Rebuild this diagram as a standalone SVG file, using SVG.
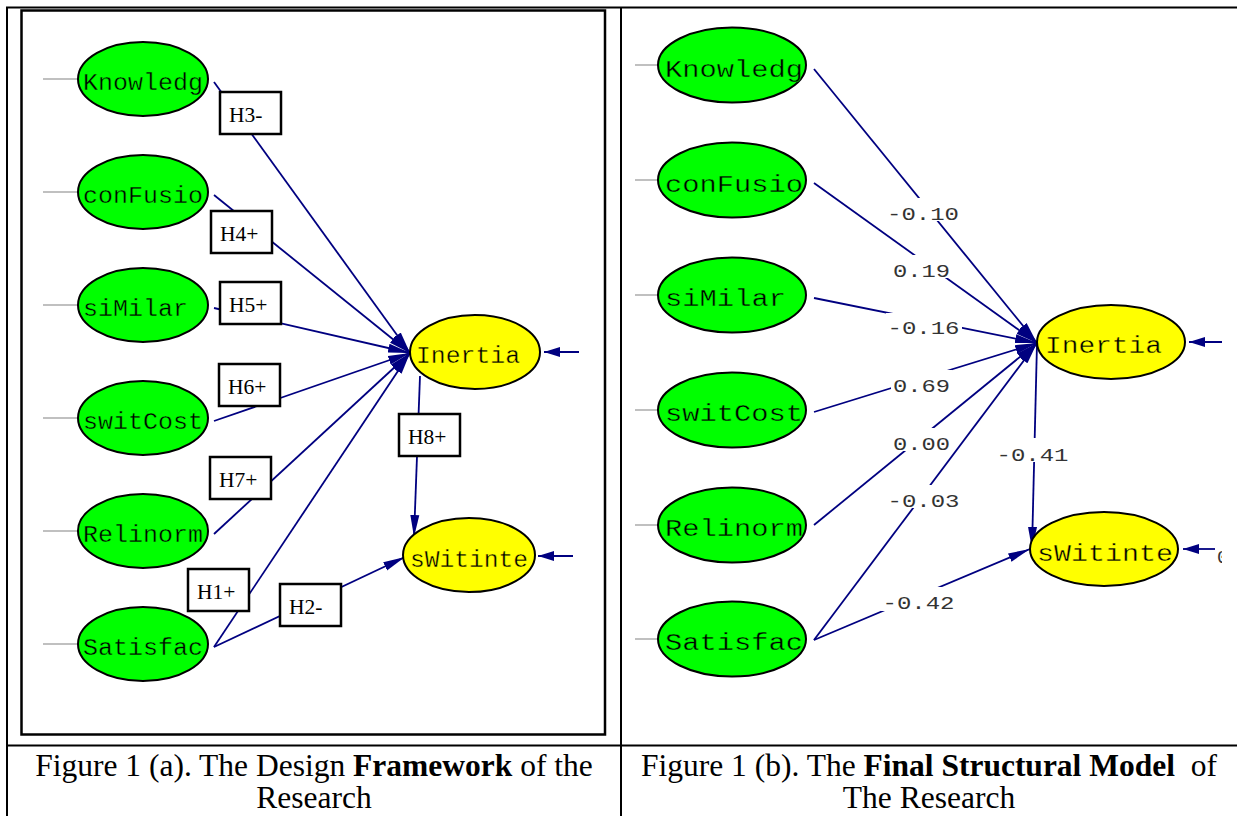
<svg xmlns="http://www.w3.org/2000/svg" width="1237" height="816" viewBox="0 0 1237 816">
<style>
.tb{stroke:#000;stroke-width:2;fill:none}
.gl{stroke:#c0c0c0;stroke-width:2}
.ex{fill:#00ff00;stroke:#000;stroke-width:2}
.en{fill:#ffff00;stroke:#000;stroke-width:2}
.nt{font-family:"Liberation Mono","Courier New",monospace;font-size:23px;fill:#000;stroke-width:0.35}
.ng{stroke:#00ff00}
.ny{stroke:#ffff00}
.cn{stroke:#000080;stroke-width:1.8;fill:none;marker-end:url(#ah)}
.cs{stroke:#000080;stroke-width:1.8;fill:none;marker-end:url(#ahs)}
.bx{fill:#fff;stroke:#000;stroke-width:2.5}
.bt{font-family:"Liberation Serif","Times New Roman",serif;font-size:21.5px;fill:#000}
.lb{font-family:"Liberation Mono","Courier New",monospace;font-size:19px;fill:#333;text-anchor:middle}
.wb{fill:#fff}
.cap{font-family:"Liberation Serif","Times New Roman",serif;font-size:31.5px;fill:#000;text-anchor:middle;white-space:pre}
</style>
<defs>
<marker id="ah" markerUnits="userSpaceOnUse" markerWidth="22" markerHeight="10" refX="22" refY="5" orient="auto"><path d="M0,0.5 L22,5 L0,9.5 Z" fill="#000080"/></marker>
<marker id="ahs" markerUnits="userSpaceOnUse" markerWidth="16" markerHeight="10" refX="16" refY="5" orient="auto"><path d="M0,0 L16,5 L0,10 Z" fill="#000080"/></marker>
<clipPath id="rclip"><rect x="621" y="0" width="601" height="745"/></clipPath>
</defs>
<rect width="1237" height="816" fill="#fff"/>
<g id="table">
<line class="tb" x1="6" y1="7.5" x2="1237" y2="7.5"/>
<line class="tb" x1="7" y1="7" x2="7" y2="816"/>
<line class="tb" x1="621" y1="7" x2="621" y2="816"/>
<line class="tb" x1="6" y1="745.5" x2="1237" y2="745.5"/>
<rect x="21.5" y="10.5" width="583.5" height="724" fill="none" stroke="#000" stroke-width="2.5"/>
</g>
<g id="connectors-a">
<line class="gl" x1="43" y1="79" x2="78" y2="79"/>
<line class="gl" x1="43" y1="192" x2="78" y2="192"/>
<line class="gl" x1="43" y1="305" x2="78" y2="305"/>
<line class="gl" x1="43" y1="418" x2="78" y2="418"/>
<line class="gl" x1="43" y1="531" x2="78" y2="531"/>
<line class="gl" x1="43" y1="644" x2="78" y2="644"/>
<path class="cn" d="M214,82 L410,353"/>
<path class="cn" d="M214,195 L410,353"/>
<path class="cn" d="M214,308 L410,353"/>
<path class="cn" d="M214,421 L410,353"/>
<path class="cn" d="M214,534 L410,353"/>
<path class="cn" d="M214,647 L410,353"/>
<path class="cn" d="M214,647 L405,557"/>
<path class="cn" d="M420,376 L414,537"/>
<path class="cs" d="M579,352 L544,352"/>
<path class="cs" d="M573,556 L538,556"/>
</g>
<g id="hyp-labels">
<rect class="bx" x="220" y="92" width="61" height="42"/><text class="bt" x="229" y="122">H3-</text>
<rect class="bx" x="211" y="211" width="61" height="42"/><text class="bt" x="220" y="241">H4+</text>
<rect class="bx" x="220" y="282" width="61" height="42"/><text class="bt" x="229" y="312">H5+</text>
<rect class="bx" x="219" y="364" width="61" height="42"/><text class="bt" x="228" y="394">H6+</text>
<rect class="bx" x="210" y="457" width="61" height="42"/><text class="bt" x="219" y="487">H7+</text>
<rect class="bx" x="399" y="414" width="61" height="42"/><text class="bt" x="408" y="444">H8+</text>
<rect class="bx" x="188" y="569" width="61" height="42"/><text class="bt" x="197" y="599">H1+</text>
<rect class="bx" x="280" y="584" width="61" height="42"/><text class="bt" x="289" y="614">H2-</text>
</g>
<g id="a-knowledg"><ellipse class="ex" cx="143" cy="79" rx="65" ry="37"/><text class="nt ng" x="83" y="89.5" textLength="120" lengthAdjust="spacingAndGlyphs">Knowledg</text></g>
<g id="a-confusio"><ellipse class="ex" cx="143" cy="192" rx="65" ry="37"/><text class="nt ng" x="83" y="202.5" textLength="120" lengthAdjust="spacingAndGlyphs">conFusio</text></g>
<g id="a-similar"><ellipse class="ex" cx="143" cy="305" rx="65" ry="37"/><text class="nt ng" x="83" y="315.5" textLength="105" lengthAdjust="spacingAndGlyphs">siMilar</text></g>
<g id="a-switcost"><ellipse class="ex" cx="143" cy="418" rx="65" ry="37"/><text class="nt ng" x="83" y="428.5" textLength="120" lengthAdjust="spacingAndGlyphs">switCost</text></g>
<g id="a-relinorm"><ellipse class="ex" cx="143" cy="531" rx="65" ry="37"/><text class="nt ng" x="83" y="541.5" textLength="120" lengthAdjust="spacingAndGlyphs">Relinorm</text></g>
<g id="a-satisfac"><ellipse class="ex" cx="143" cy="644" rx="65" ry="37"/><text class="nt ng" x="83" y="654.5" textLength="120" lengthAdjust="spacingAndGlyphs">Satisfac</text></g>
<g id="a-inertia"><ellipse class="en" cx="475" cy="352" rx="65" ry="37"/><text class="nt ny" x="416" y="363" textLength="104" lengthAdjust="spacingAndGlyphs">Inertia</text></g>
<g id="a-switinte"><ellipse class="en" cx="469" cy="555" rx="66" ry="37"/><text class="nt ny" x="410" y="566.5" textLength="118" lengthAdjust="spacingAndGlyphs">sWitinte</text></g>

<g id="connectors-b">
<line class="gl" x1="635" y1="65" x2="658" y2="65"/>
<line class="gl" x1="635" y1="180" x2="658" y2="180"/>
<line class="gl" x1="635" y1="295" x2="658" y2="295"/>
<line class="gl" x1="635" y1="410" x2="658" y2="410"/>
<line class="gl" x1="635" y1="525" x2="658" y2="525"/>
<line class="gl" x1="635" y1="639" x2="658" y2="639"/>
<path class="cn" d="M814,69 L1037,343"/>
<path class="cn" d="M814,183 L1037,343"/>
<path class="cn" d="M814,298 L1037,343"/>
<path class="cn" d="M814,412 L1037,343"/>
<path class="cn" d="M814,525 L1037,343"/>
<path class="cn" d="M814,640 L1037,343"/>
<path class="cn" d="M814,640 L1030,549"/>
<path class="cn" d="M1037,343 L1032,549"/>
<path class="cs" d="M1222,342 L1189,342"/>
<path class="cs" d="M1215,549 L1183,549"/>
</g>
<g id="coef-labels">
<rect class="wb" x="885" y="198" width="76" height="23"/><text class="lb" x="923" y="219.5" textLength="72" lengthAdjust="spacingAndGlyphs">-0.10</text>
<rect class="wb" x="891" y="255" width="61" height="23"/><text class="lb" x="921.5" y="277" textLength="57" lengthAdjust="spacingAndGlyphs">0.19</text>
<rect class="wb" x="886" y="313" width="76" height="23"/><text class="lb" x="923.5" y="334" textLength="72" lengthAdjust="spacingAndGlyphs">-0.16</text>
<rect class="wb" x="891" y="370" width="61" height="23"/><text class="lb" x="921.5" y="391.5" textLength="57" lengthAdjust="spacingAndGlyphs">0.69</text>
<rect class="wb" x="891" y="428" width="61" height="23"/><text class="lb" x="921.5" y="450" textLength="57" lengthAdjust="spacingAndGlyphs">0.00</text>
<rect class="wb" x="886" y="485" width="76" height="23"/><text class="lb" x="923.5" y="506.5" textLength="72" lengthAdjust="spacingAndGlyphs">-0.03</text>
<rect class="wb" x="995" y="438" width="76" height="24"/><text class="lb" x="1032.5" y="460.5" textLength="72" lengthAdjust="spacingAndGlyphs">-0.41</text>
<rect class="wb" x="881" y="587" width="76" height="24"/><text class="lb" x="918.5" y="609" textLength="72" lengthAdjust="spacingAndGlyphs">-0.42</text>
<text class="lb" x="1217" y="563" style="text-anchor:start" clip-path="url(#rclip)">0</text>
</g>
<g id="b-knowledg"><ellipse class="ex" cx="732" cy="65" rx="74" ry="37.5"/><text class="nt ng" x="665" y="76.5" textLength="138" lengthAdjust="spacingAndGlyphs">Knowledg</text></g>
<g id="b-confusio"><ellipse class="ex" cx="732" cy="180" rx="74" ry="37.5"/><text class="nt ng" x="665" y="191.5" textLength="138" lengthAdjust="spacingAndGlyphs">conFusio</text></g>
<g id="b-similar"><ellipse class="ex" cx="732" cy="295" rx="74" ry="37.5"/><text class="nt ng" x="665" y="306" textLength="121" lengthAdjust="spacingAndGlyphs">siMilar</text></g>
<g id="b-switcost"><ellipse class="ex" cx="732" cy="410" rx="74" ry="37.5"/><text class="nt ng" x="665" y="421" textLength="138" lengthAdjust="spacingAndGlyphs">switCost</text></g>
<g id="b-relinorm"><ellipse class="ex" cx="732" cy="525" rx="74" ry="37.5"/><text class="nt ng" x="665" y="536" textLength="138" lengthAdjust="spacingAndGlyphs">Relinorm</text></g>
<g id="b-satisfac"><ellipse class="ex" cx="732" cy="639" rx="74" ry="37.5"/><text class="nt ng" x="665" y="650" textLength="138" lengthAdjust="spacingAndGlyphs">Satisfac</text></g>
<g id="b-inertia"><ellipse class="en" cx="1111" cy="342" rx="74" ry="37"/><text class="nt ny" x="1045" y="353" textLength="117" lengthAdjust="spacingAndGlyphs">Inertia</text></g>
<g id="b-switinte"><ellipse class="en" cx="1104" cy="549" rx="74" ry="37"/><text class="nt ny" x="1037" y="560.5" textLength="136" lengthAdjust="spacingAndGlyphs">sWitinte</text></g>

<g id="captions">
<text class="cap" x="314" y="776">Figure 1 (a). The Design <tspan font-weight="bold">Framework</tspan> of the</text>
<text class="cap" x="314" y="808">Research</text>
<text class="cap" x="929" y="776">Figure 1 (b). The <tspan font-weight="bold">Final Structural Model</tspan>  of</text>
<text class="cap" x="929" y="808">The Research</text>
</g>
</svg>
